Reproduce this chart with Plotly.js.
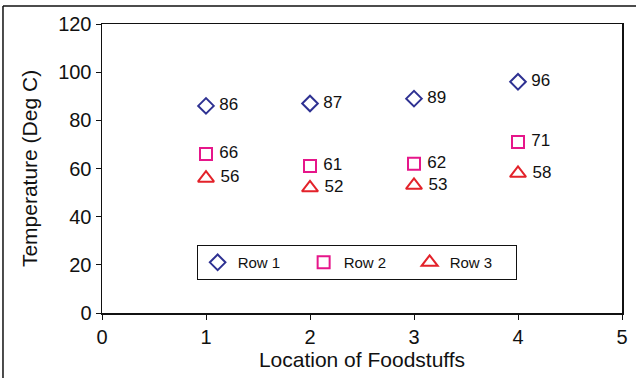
<!DOCTYPE html>
<html>
<head>
<meta charset="utf-8">
<script src="https://cdn.plot.ly/plotly-3.0.1.min.js"></script>
<style>html,body{margin:0;padding:0;background:#fff;}#chart{width:636px;height:378px;}</style>
</head>
<body>
<div id="chart"></div>
<script>
const locations = [1, 2, 3, 4];
const row1 = [86, 87, 89, 96];
const row2 = [66, 61, 62, 71];
const row3 = [56, 52, 53, 58];
const seriesNames = ["Row 1", "Row 2", "Row 3"];
const xTicks = [0, 1, 2, 3, 4, 5];
const yTicks = [0, 20, 40, 60, 80, 100, 120];

const font = "Liberation Sans, Arial, sans-serif";
function trace(name, vals, symbol, color, size) {
  return {
    x: locations, y: vals, name: name, type: "scatter", mode: "markers+text",
    text: vals.map(v => "\u00a0" + v), textposition: "middle right",
    textfont: {family: font, size: 17, color: "#111"},
    marker: {symbol: symbol, size: size, color: color, line: {color: color, width: 2}},
    cliponaxis: false
  };
}
const data = [
  trace(seriesNames[0], row1, "diamond-open", "#2e3192", 12),
  trace(seriesNames[1], row2, "square-open", "#e6168a", 12),
  trace(seriesNames[2], row3, "triangle-up-open", "#e3222a", 14)
];
const layout = {
  width: 636, height: 378,
  margin: {l: 102, r: 14, t: 24, b: 65},
  paper_bgcolor: "#fff", plot_bgcolor: "#fff",
  font: {family: font, color: "#111"},
  showlegend: true,
  legend: {
    orientation: "h", x: 0.182, y: 0.235, xanchor: "left", yanchor: "top",
    bordercolor: "#111", borderwidth: 1, entrywidth: 61, traceorder: "normal",
    font: {family: font, size: 15, color: "#111"}, itemclick: false
  },
  xaxis: {
    range: [0, 5], tickvals: xTicks, ticktext: xTicks.map(String),
    showline: true, linecolor: "#111", linewidth: 1.5, mirror: true,
    ticks: "outside", ticklen: 5, tickcolor: "#111", showgrid: false, zeroline: false,
    tickfont: {family: font, size: 20, color: "#111"},
    title: {text: "Location of Foodstuffs", font: {family: font, size: 21, color: "#111"}, standoff: 6}
  },
  yaxis: {
    range: [0, 120], tickvals: yTicks, ticktext: yTicks.map(String),
    showline: true, linecolor: "#111", linewidth: 1.5, mirror: true,
    ticks: "outside", ticklen: 5, tickcolor: "#111", showgrid: false, zeroline: false,
    tickfont: {family: font, size: 20, color: "#111"},
    title: {text: "Temperature (Deg C)", font: {family: font, size: 21, color: "#111"}, standoff: 15}
  },
  shapes: [
    {type: "line", xref: "paper", yref: "paper", x0: -0.1904, x1: 1.03, y0: 1.0623, y1: 1.0623, line: {color: "#111", width: 1.5}},
    {type: "line", xref: "paper", yref: "paper", x0: -0.1904, x1: -0.1904, y0: 1.0623, y1: -0.25, line: {color: "#111", width: 1.5}}
  ]
};
Plotly.newPlot("chart", data, layout, {staticPlot: true});
</script>
</body>
</html>
